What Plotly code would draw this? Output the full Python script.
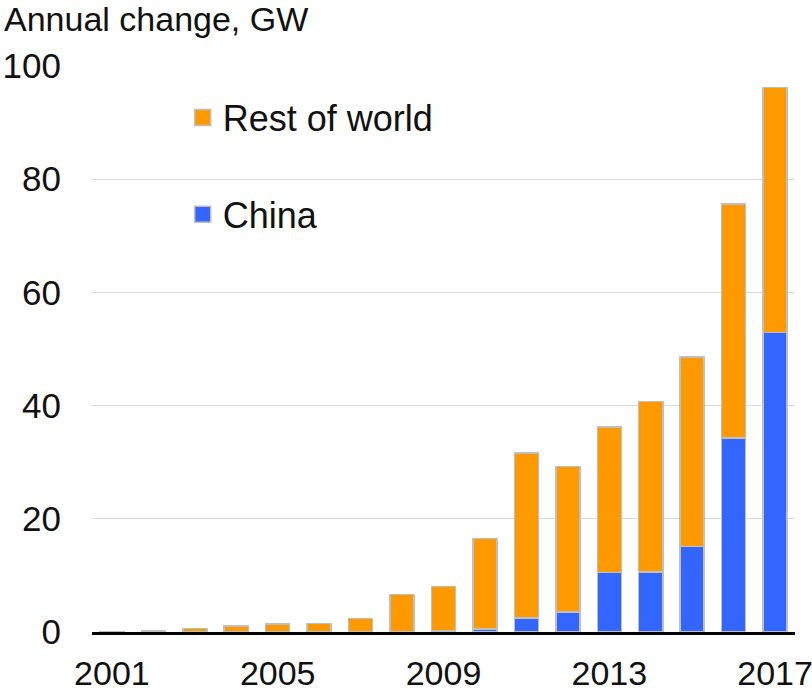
import plotly.graph_objects as go

years = list(range(2001, 2018))
china = [0.0, 0.0, 0.0, 0.0, 0.0, 0.0, 0.0, 0.0, 0.2, 0.5, 2.5, 3.5, 10.5, 10.6, 15.1, 34.3, 52.9]
total = [0.1, 0.3, 0.6, 1.1, 1.4, 1.5, 2.4, 6.6, 8.0, 16.5, 31.6, 29.2, 36.2, 40.7, 48.6, 75.6, 96.2]
rest_of_world = [round(t - c, 1) for t, c in zip(total, china)]

x_ticks = [2001, 2005, 2009, 2013, 2017]
y_ticks = [0, 20, 40, 60, 80, 100]

ORANGE = "#FF9900"
BLUE = "#3366FF"
EDGE = "#BFBFBF"
FONT = "Liberation Sans"

fig = go.Figure()
fig.add_bar(x=years, y=china, name="China", marker=dict(color=BLUE, line=dict(color=EDGE, width=1.5)),
            width=0.58, showlegend=False)
fig.add_bar(x=years, y=rest_of_world, name="Rest of world",
            marker=dict(color=ORANGE, line=dict(color=EDGE, width=1.5)), width=0.58, showlegend=False)

# legend swatches (bigger than plotly's default bar icon)
for name, color, group in [("Rest of world", ORANGE, "a"), ("China", BLUE, "b")]:
    fig.add_scatter(x=[None], y=[None], mode="markers", name=name, legendgroup=group,
                    marker=dict(symbol="square", size=19, color=color, line=dict(color=EDGE, width=1.5)))

fig.update_layout(
    barmode="stack",
    width=812,
    height=694,
    paper_bgcolor="white",
    plot_bgcolor="white",
    margin=dict(l=92, r=17, t=66, b=62, autoexpand=False),
    font=dict(family=FONT, size=35, color="#111111"),
    legend=dict(x=0.129, y=0.962, xanchor="left", yanchor="top", bgcolor="rgba(0,0,0,0)",
                font=dict(size=36), tracegroupgap=47, itemsizing="trace"),
    showlegend=True,
)
fig.update_xaxes(range=[2000.52, 2017.48], tickvals=x_ticks, showgrid=False, showline=True,
                 linecolor="black", linewidth=3, ticks="", ticklabelstandoff=9, automargin=False,
                 tickfont=dict(size=34), ticklabeloverflow="allow")
fig.update_yaxes(range=[0, 100], tickvals=y_ticks, showgrid=True, gridcolor="#D9D9D9", gridwidth=1,
                 zeroline=False, ticks="", ticklabelstandoff=30, automargin=False)

fig.add_annotation(text="Annual change, GW", xref="paper", yref="paper", x=0, y=1, xanchor="left",
                   yanchor="middle", xshift=-90, yshift=47, showarrow=False, font=dict(size=34))

# page has a default 8px body margin; drop it so the figure fills the window
fig.write_html("out.html", config={"displayModeBar": False},
               post_script="document.body.style.margin='0px';")
